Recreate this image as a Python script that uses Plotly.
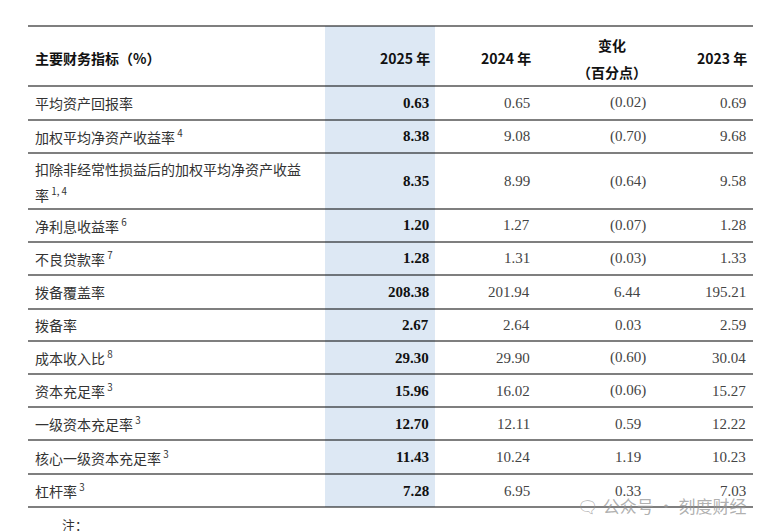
import plotly.graph_objects as go

labels = ["平均资产回报率", "加权平均净资产收益率<sup> 4</sup>",
          "扣除非经常性损益后的加权平均净资产收益|率<sup> 1, 4</sup>",
          "净利息收益率<sup> 6</sup>", "不良贷款率<sup> 7</sup>", "拨备覆盖率", "拨备率",
          "成本收入比<sup> 8</sup>", "资本充足率<sup> 3</sup>", "一级资本充足率<sup> 3</sup>",
          "核心一级资本充足率<sup> 3</sup>", "杠杆率<sup> 3</sup>"]
v2025 = ["0.63", "8.38", "8.35", "1.20", "1.28", "208.38", "2.67", "29.30", "15.96", "12.70", "11.43", "7.28"]
v2024 = ["0.65", "9.08", "8.99", "1.27", "1.31", "201.94", "2.64", "29.90", "16.02", "12.11", "10.24", "6.95"]
change = ["(0.02)", "(0.70)", "(0.64)", "(0.07)", "(0.03)", "6.44", "0.03", "(0.60)", "(0.06)", "0.59", "1.19", "0.33"]
v2023 = ["0.69", "9.68", "9.58", "1.28", "1.33", "195.21", "2.59", "30.04", "15.27", "12.22", "10.23", "7.03"]

bounds = [78, 112, 145, 201, 234, 267, 301, 333, 366, 399, 432, 466, 499]

W, H = 764, 531
def px(x): return x / W
def py(y): return 1 - y / H

fig = go.Figure()
fig.update_layout(width=W, height=H, margin=dict(l=0, r=0, t=0, b=0, pad=0), autosize=False,
                  paper_bgcolor="white", plot_bgcolor="white", showlegend=False,
                  xaxis=dict(visible=False), yaxis=dict(visible=False))
shapes = [dict(type="rect", xref="paper", yref="paper", x0=px(317), x1=px(427), y0=py(18), y1=py(499),
               fillcolor="#dde8f4", line_width=0, layer="below")]
for y in [18] + bounds:
    shapes.append(dict(type="line", xref="paper", yref="paper", x0=px(20), x1=px(745), y0=py(y), y1=py(y),
                       line=dict(color="black", width=1.2)))
fig.update_layout(shapes=shapes)

cn = "Noto Sans CJK SC"
num = "Liberation Serif"
ann = []
def A(x, y, t, anchor="right", font=num, size=15, color="#222", bold=False):
    if bold:
        t = "<b>" + t + "</b>"
    ann.append(dict(x=px(x), y=py(y), xref="paper", yref="paper", text=t, showarrow=False, xanchor=anchor,
                    yanchor="middle", font=dict(family=font, size=size, color=color), align="left"))

A(25, 50, "主要财务指标（%）", "left", cn, 14, "#111", True)
A(424, 50, "2025 年", "right", cn, 14, "#111", True)
A(525, 50, "2024 年", "right", cn, 14, "#111", True)
A(604, 37, "变化", "center", cn, 14, "#111", True)
A(604, 64, "（百分点）", "center", cn, 14, "#111", True)
A(741, 50, "2023 年", "right", cn, 14, "#111", True)

for i in range(len(labels)):
    yc = (bounds[i] + bounds[i + 1]) / 2
    parts = labels[i].split("|")
    if len(parts) == 1:
        A(25, yc, parts[0], "left", cn, 14, "#333")
    else:
        A(25, yc - 12, parts[0], "left", cn, 14, "#333")
        A(25, yc + 13, parts[1], "left", cn, 14, "#333")
    A(423, yc, v2025[i], "right", num, 15, "#111", True)
    A(524, yc, v2024[i], "right", num, 15, "#444")
    A(640 if change[i].startswith("(") else 635, yc, change[i], "right", num, 15, "#444")
    A(740, yc, v2023[i], "right", num, 15, "#444")

A(52, 516, "注：", "left", cn, 13, "#333")
A(740, 497, "🗨 公众号 · 刻度财经", "right", cn, 17, "rgba(150,150,150,0.75)")
fig.update_layout(annotations=ann)
fig.write_html("out.html")
